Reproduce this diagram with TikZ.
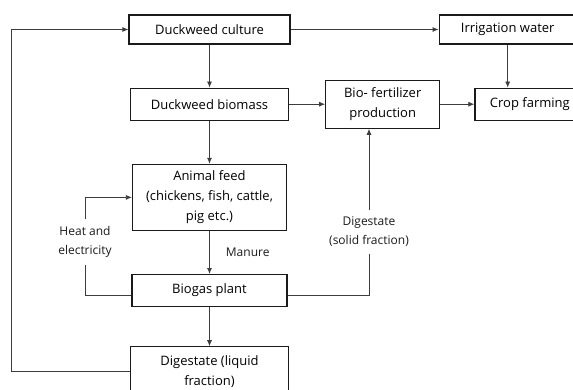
\documentclass[tikz,border=0pt]{standalone}
\usepackage{fontspec}
\setmainfont{Open Sans}
\usepackage{tikz}
\usetikzlibrary{arrows.meta,positioning}
\definecolor{ink}{HTML}{1A1A1A}
\definecolor{wire}{HTML}{3C3C3C}
\tikzset{
  >={Latex[length=6pt,width=5pt]},
  flow/.style={->,line width=0.8pt,draw=wire},
  line/.style={line width=0.8pt,draw=wire},
  box/.style={draw=ink,line width=1.2pt,fill=white,align=center,inner sep=2pt,
    minimum width=158pt,minimum height=32pt,font=\fontsize{13}{20}\selectfont},
  lbl/.style={align=center,inner sep=7pt,font=\fontsize{12}{19}\selectfont,text=ink}
}
\begin{document}
\begin{tikzpicture}[x=1pt,y=-1pt,node distance=43pt and 36pt]
  \useasboundingbox (0,0) rectangle (573,390);
  \node[box,minimum width=161pt,minimum height=29pt] (cult) at (209.5,29.5) {Duckweed culture};
  \node[box,below=of cult] (bio) {Duckweed biomass};
  \node[box,below=of bio,minimum width=154pt,minimum height=66pt] (feed) {Animal feed\\(chickens, fish, cattle,\\pig etc.)};
  \node[box,below=of feed,minimum width=155pt] (gas) {Biogas plant};
  \node[box,below=39pt of gas,minimum height=50pt] (liq) {Digestate (liquid\\fraction)};
  \node[box,right=148pt of cult,minimum width=137pt,minimum height=29pt] (irr) {Irrigation water};
  \node[box,right=of bio,minimum width=114pt,minimum height=48pt] (fert) {Bio- fertilizer\\production};
  \node[box,right=34pt of fert,minimum width=110pt] (crop) {Crop farming};
  \node[lbl] (heat) at (85,242) {Heat and\\electricity};
  \node[lbl] (solid) at (369,232) {Digestate\\(solid fraction)};
  \draw[flow] (cult) -- (bio);
  \draw[flow] (bio) -- (feed);
  \draw[flow] (feed) -- node[lbl,right,inner sep=2pt,xshift=14pt] {Manure} (gas);
  \draw[flow] (gas) -- (liq);
  \draw[flow] (cult) -- (irr);
  \draw[flow] (bio) -- (fert);
  \draw[flow] (fert) -- (crop);
  \draw[flow] (irr.south) -- (irr.south |- crop.north);
  \draw[flow] (liq.west) -- ++(-119,0) |- (cult.west);
  \draw[line] ([yshift=-5pt]gas.west) -| (heat.south);
  \draw[flow] (heat.north) |- (feed.west);
  \draw[line] ([yshift=-5pt]gas.east) -| (solid.south);
  \draw[flow] (solid.north) -- (solid.north |- fert.south);
\end{tikzpicture}
\end{document}
